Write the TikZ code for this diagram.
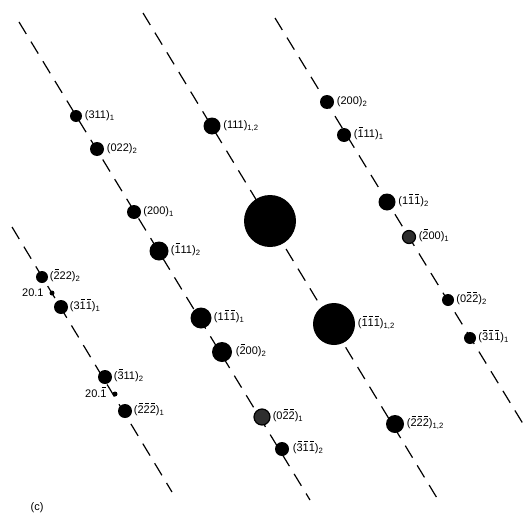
\documentclass[tikz,border=0pt]{standalone}
\usepackage{fontspec}
\setmainfont{Liberation Sans}
\newcommand\ob[1]{\leavevmode\hbox{\ooalign{#1\cr\hidewidth\raisebox{0.92em}{\rule{0.36em}{0.45pt}}\hidewidth\cr}}}
\newcommand\sbs[1]{\textsubscript{#1}}
\tikzset{
  zoneline/.style={line width=1.2pt, dash pattern=on 14pt off 9pt},
  spot/.style={circle, fill=black, inner sep=0pt, minimum size=#1},
  grayspot/.style={circle, fill=black!82, draw=black, line width=1.2pt, inner sep=0pt, minimum size=#1},
  lab/.style={anchor=west, inner sep=0.5pt, font=\fontsize{11}{12}\selectfont},
  llab/.style={anchor=east, inner sep=0.5pt, font=\fontsize{11}{12}\selectfont}
}
\begin{document}
\begin{tikzpicture}[x=1pt,y=-1pt]
\useasboundingbox (0,0) rectangle (526,516);
% line end coordinates
\coordinate (A0) at (12,227); \coordinate (A1) at (172,492);
\coordinate (B0) at (19,22);  \coordinate (B1) at (310,500);
\coordinate (C0) at (143,13); \coordinate (C1) at (440,503);
\coordinate (D0) at (275,18); \coordinate (D1) at (525,427);
\draw[zoneline] (A0) -- (A1);
\draw[zoneline] (B0) -- (B1);
\draw[zoneline] (C0) -- (C1);
\draw[zoneline] (D0) -- (D1);
% line B
\node[spot=12pt] (b1) at (76,116) {};
\node[spot=14pt] (b2) at (97,149) {};
\node[spot=14pt] (b3) at (134,212) {};
\node[spot=19pt] (b4) at (159,251) {};
\node[spot=21pt] (b5) at (201,318) {};
\node[spot=20pt] (b6) at (222,352) {};
\node[grayspot=16pt] (b7) at (262,417) {};
\node[spot=14pt] (b8) at (282,449) {};
\node[lab] at ([xshift=2pt]b1.east) {(311)\sbs{1}};
\node[lab] at ([xshift=2pt]b2.east) {(022)\sbs{2}};
\node[lab] at ([xshift=1.5pt]b3.east) {(200)\sbs{1}};
\node[lab] at ([xshift=1.5pt]b4.east) {(\ob{1}11)\sbs{2}};
\node[lab] at ([xshift=1.5pt]b5.east) {(1\ob{1}\ob{1})\sbs{1}};
\node[lab] at ([xshift=3pt]b6.east) {(\ob{2}00)\sbs{2}};
\node[lab] at ([xshift=1.5pt]b7.east) {(0\ob{2}\ob{2})\sbs{1}};
\node[lab] at ([xshift=3pt]b8.east) {(\ob{3}\ob{1}\ob{1})\sbs{2}};
% line C
\node[spot=17pt] (c1) at (212,126) {};
\node[spot=52pt] (c2) at (270,221) {};
\node[spot=42pt] (c3) at (334,324) {};
\node[spot=18pt] (c4) at (395,424) {};
\node[lab] at ([xshift=2pt]c1.east) {(111)\sbs{1,2}};
\node[lab] at ([xshift=2pt]c3.east) {(\ob{1}\ob{1}\ob{1})\sbs{1,2}};
\node[lab] at ([xshift=2pt]c4.east) {(\ob{2}\ob{2}\ob{2})\sbs{1,2}};
% line D
\node[spot=14pt] (d1) at (327,102) {};
\node[spot=14pt] (d2) at (344,135) {};
\node[spot=17pt] (d3) at (387,202) {};
\node[grayspot=13pt] (d4) at (409,237) {};
\node[spot=12pt] (d5) at (448,300) {};
\node[spot=12pt] (d6) at (470,338) {};
\node[lab] at ([xshift=2pt]d1.east) {(200)\sbs{2}};
\node[lab] at ([xshift=2pt]d2.east) {(\ob{1}11)\sbs{1}};
\node[lab] at ([xshift=2pt]d3.east) {(1\ob{1}\ob{1})\sbs{2}};
\node[lab] at ([xshift=2pt]d4.east) {(\ob{2}00)\sbs{1}};
\node[lab] at ([xshift=1.5pt]d5.east) {(0\ob{2}\ob{2})\sbs{2}};
\node[lab] at ([xshift=1.5pt]d6.east) {(\ob{3}\ob{1}\ob{1})\sbs{1}};
% line A
\node[spot=12pt] (a1) at (42,277) {};
\node[spot=5pt]  (a2) at (52,293) {};
\node[spot=14pt] (a3) at (61,307) {};
\node[spot=14pt] (a4) at (105,377) {};
\node[spot=5pt]  (a5) at (115,394) {};
\node[spot=14pt] (a6) at (125,411) {};
\node[lab] at ([xshift=1pt]a1.east) {(\ob{2}22)\sbs{2}};
\node[llab] at ([xshift=-5pt]a2.west) {20.1};
\node[lab] at ([xshift=1pt]a3.east) {(3\ob{1}\ob{1})\sbs{1}};
\node[lab] at ([xshift=1pt]a4.east) {(\ob{3}11)\sbs{2}};
\node[llab] at ([xshift=-5pt]a5.west) {20.\ob{1}};
\node[lab] at ([xshift=1pt]a6.east) {(\ob{2}\ob{2}\ob{2})\sbs{1}};
% panel label
\node[lab] (panel) at (30,508) {(c)};
\end{tikzpicture}
\end{document}
